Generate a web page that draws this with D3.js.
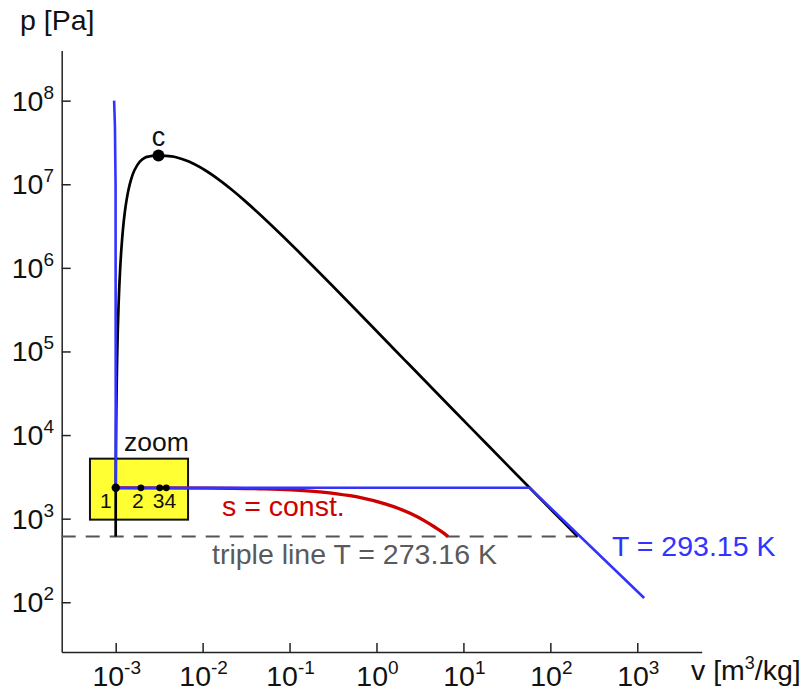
<!DOCTYPE html>
<meta charset="utf-8">
<style>
body { margin: 0; background: #fff; }
svg { font-family: "Liberation Sans", Arial, sans-serif; }
.axis path, .axis line { stroke: #222; stroke-width: 1.5; }
</style>
<svg width="802" height="691"></svg>
<script src="https://cdn.jsdelivr.net/npm/d3@7"></script>
<script>

// saturation curve of water (p in Pa, v in m3/kg)
var satP   = [611.7, 1228, 2339, 4247, 7385, 12352, 19946, 31201, 47416, 70183, 101418, 198670, 361530, 618230,
              1002800, 1554900, 2319600, 3346900, 4692300, 6416600, 8587900, 11284000, 14601000, 18666000,
              21044000, 21554000, 21850000, 22064000];
var satVl  = [0.0010002, 0.0010003, 0.0010018, 0.0010043, 0.0010078, 0.0010121, 0.0010171, 0.0010228, 0.0010292,
              0.0010361, 0.0010435, 0.0010603, 0.0010798, 0.0011020, 0.0011274, 0.0011565, 0.0011900, 0.0012291,
              0.0012755, 0.0013324, 0.0014041, 0.0014988, 0.0016381, 0.0018945, 0.002217, 0.00244, 0.00262, 0.003106];
var satVg  = [205.99, 106.3, 57.76, 32.88, 19.52, 12.03, 7.667, 5.040, 3.405, 2.359, 1.672, 0.8915, 0.5085, 0.3071,
              0.19384, 0.12721, 0.08609, 0.05967, 0.04220, 0.03017, 0.02167, 0.01549, 0.01080, 0.006950,
              0.004953, 0.00434, 0.00372, 0.003106];

// isotherm T = 293.15 K
var isoV = [0.000959, 0.000980, 0.000997, 0.0010018, 57.76, 1200];
var isoP = [1e8, 5e7, 1e7, 2339, 2339, 112.5];

// isentrope from point 1
var isenV = [0.001002, 0.0109, 0.0513, 0.105, 0.2217, 0.351, 0.496, 0.6564, 1.254, 1.768, 2.402, 3.619, 4.66, 5.94, 6.671];
var isenP = [2339, 2325, 2270, 2205, 2090, 1985, 1880, 1785, 1505, 1335, 1165, 935, 795, 672, 611.7];

// marked states in the zoom box
var ptsV = [0.0010018, 0.00195, 0.00321, 0.00382];
var ptsLabel = ["1", "2", "3", "4"];
var pTriple = 611.7;
var crit = [0.003106, 22064000];

var vTicks = [-3, -2, -1, 0, 1, 2, 3];
var pTicks = [2, 3, 4, 5, 6, 7, 8];

var svg = d3.select("svg");

var x = d3.scaleLog().domain([Math.pow(10, -3.621), Math.pow(10, 3.741)]).range([61.7, 701.7]);
var y = d3.scaleLog().domain([Math.pow(10, 1.405), Math.pow(10, 8.6)]).range([652, 50.5]);

var line = d3.line().x(function(d){ return x(d[0]); }).y(function(d){ return y(d[1]); });

// axes
svg.append("g").attr("class", "axis").attr("transform", "translate(0,652)")
  .call(d3.axisBottom(x).tickValues(vTicks.map(function(e){ return Math.pow(10, e); }))
    .tickSizeInner(-9).tickSizeOuter(0).tickFormat(""));
svg.append("g").attr("class", "axis").attr("transform", "translate(61.7,0)")
  .call(d3.axisLeft(y).tickValues(pTicks.map(function(e){ return Math.pow(10, e); }))
    .tickSizeInner(-9).tickSizeOuter(0).tickFormat(""));

function powLabel(sel, e) {
  sel.append("tspan").text("10");
  sel.append("tspan").attr("dy", -12).attr("font-size", 19).text(e);
}

vTicks.forEach(function(e) {
  var t = svg.append("text").attr("x", x(Math.pow(10, e)) + 1).attr("y", 686)
    .attr("text-anchor", "middle").attr("font-size", 28.5).attr("fill", "#111");
  powLabel(t, e);
});
pTicks.forEach(function(e) {
  var t = svg.append("text").attr("x", 54).attr("y", y(Math.pow(10, e)) + 10)
    .attr("text-anchor", "end").attr("font-size", 28.5).attr("fill", "#111");
  powLabel(t, e);
});

svg.append("text").attr("x", 20).attr("y", 30).attr("font-size", 28.5).attr("fill", "#111").text("p [Pa]");
var vl = svg.append("text").attr("x", 691).attr("y", 680).attr("font-size", 28.5).attr("fill", "#111");
vl.append("tspan").text("v [m");
vl.append("tspan").attr("dy", -11).attr("font-size", 18).text("3");
vl.append("tspan").attr("dy", 11).text("/kg]");

// triple line
svg.append("line")
  .attr("x1", x.range()[0]).attr("x2", x(satVg[0]))
  .attr("y1", y(pTriple)).attr("y2", y(pTriple))
  .attr("stroke", "#555").attr("stroke-width", 2).attr("stroke-dasharray", "14,10");

// zoom box
svg.append("rect")
  .attr("x", x(5.06e-4)).attr("y", y(5220))
  .attr("width", x(6.8e-3) - x(5.06e-4)).attr("height", y(973) - y(5220))
  .attr("fill", "#ffff33").attr("stroke", "#111").attr("stroke-width", 2);
svg.append("text").attr("x", 124).attr("y", 451).attr("font-size", 26.5).attr("fill", "#111").text("zoom");

// saturation dome
var dome = satP.map(function(p, i){ return [satVl[i], p]; })
  .concat(satP.slice(0, -1).map(function(p, i){ return [satVg[i], p]; }).reverse());
svg.append("path")
  .attr("d", line.curve(d3.curveCatmullRom)(dome))
  .attr("fill", "none").attr("stroke", "#000").attr("stroke-width", 2.7);

// isentrope
var isen = isenV.map(function(v, i){ return [v, isenP[i]]; });
svg.append("path")
  .attr("d", line.curve(d3.curveMonotoneX)(isen))
  .attr("fill", "none").attr("stroke", "#cc0000").attr("stroke-width", 3.3);

// isotherm
var iso = isoV.map(function(v, i){ return [v, isoP[i]]; });
svg.append("path")
  .attr("d", line.curve(d3.curveLinear)(iso))
  .attr("fill", "none").attr("stroke", "#3333ff").attr("stroke-width", 2.6);

// points
ptsV.forEach(function(v, i) {
  svg.append("circle").attr("cx", x(v)).attr("cy", y(2339)).attr("r", i === 0 ? 4.2 : 3.4).attr("fill", "#000");
});
var lblDx = [-10, -3, -1, 4];
ptsV.forEach(function(v, i) {
  svg.append("text").attr("x", x(v) + lblDx[i]).attr("y", y(2339) + 20)
    .attr("text-anchor", "middle").attr("font-size", 21).attr("fill", "#111").text(ptsLabel[i]);
});

// critical point
svg.append("circle").attr("cx", x(crit[0])).attr("cy", y(crit[1])).attr("r", 6).attr("fill", "#000");
svg.append("text").attr("x", x(crit[0])).attr("y", y(crit[1]) - 10)
  .attr("text-anchor", "middle").attr("font-size", 27).attr("fill", "#111").text("c");

svg.append("text").attr("x", 222).attr("y", 516).attr("font-size", 28.5).attr("fill", "#cc0000").text("s = const.");
svg.append("text").attr("x", 212).attr("y", 564).attr("font-size", 28.5).attr("fill", "#5a5a5a").text("triple line T = 273.16 K");
svg.append("text").attr("x", 612).attr("y", 556).attr("font-size", 28.5).attr("fill", "#3333ff").text("T = 293.15 K");

</script>
